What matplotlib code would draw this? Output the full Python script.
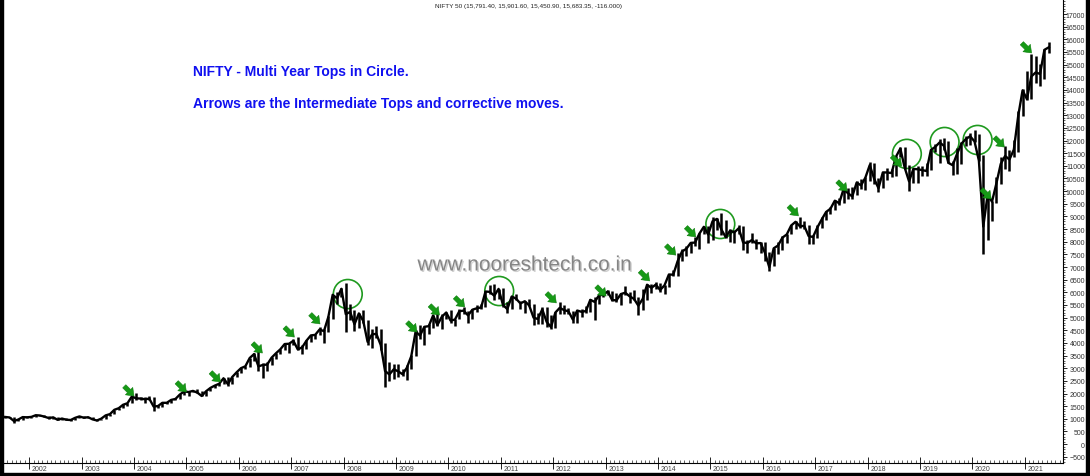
import numpy as np
import matplotlib
matplotlib.use("Agg")
import matplotlib.pyplot as plt
from matplotlib.patches import Ellipse, Rectangle
import matplotlib.patheffects as pe

plt.rcParams['font.family'] = ['Liberation Sans', 'DejaVu Sans']

# NIFTY 50 monthly bars, Jul 2001 .. Jun 2021 (one row per year)
start_year = 2001
start_month = 7

high = [
    1130, 1085, 1070, 990, 1080, 1100,
    1090, 1160, 1170, 1145, 1095, 1080, 1085, 1015, 1020, 985, 1040, 1110,
    1110, 1080, 1070, 995, 1010, 1140, 1200, 1365, 1430, 1570, 1625, 1885,
    2015, 1880, 1860, 1900, 1850, 1560, 1650, 1665, 1750, 1820, 1965, 2090,
    2100, 2110, 2180, 2110, 2095, 2230, 2320, 2420, 2620, 2670, 2660, 2850,
    3010, 3100, 3420, 3600, 3775, 3200, 3230, 3430, 3600, 3760, 3990, 4000,
    4170, 4250, 3930, 4100, 4300, 4350, 4630, 4550, 5060, 5900, 6010, 6180,
    6357, 5550, 5300, 5200, 5300, 4900, 4540, 4650, 4560, 4000, 3240, 3150,
    3150, 2980, 3125, 3520, 4510, 4690, 4670, 4740, 5090, 5180, 5140, 5220,
    5310, 4950, 5330, 5400, 5280, 5350, 5480, 5550, 6070, 6285, 6340, 6150,
    6180, 5600, 5870, 5950, 5640, 5660, 5740, 5550, 5170, 5400, 5400, 5100,
    5220, 5630, 5500, 5380, 5280, 5290, 5350, 5450, 5730, 5815, 5890, 5965,
    6110, 6050, 5970, 5960, 6230, 6000, 6090, 5810, 6140, 6310, 6340, 6420,
    6360, 6290, 6730, 6870, 7560, 7700, 7840, 7970, 8180, 8330, 8620, 8630,
    8996, 8940, 9119, 8840, 8490, 8470, 8650, 8620, 8060, 8340, 8120, 7980,
    7970, 7600, 7770, 7990, 8210, 8310, 8670, 8820, 8970, 8810, 8670, 8275,
    8670, 8980, 9220, 9370, 9650, 9710, 10115, 10140, 10180, 10380, 10490, 10550,
    11170, 11120, 10530, 10760, 10930, 10890, 11370, 11760, 11750, 11040, 10920, 10990,
    10990, 11120, 11630, 11860, 12040, 12100, 11980, 11180, 11690, 11940, 12160, 12290,
    12430, 12250, 11430, 9890, 9600, 10550, 11340, 11790, 11620, 12030, 13150, 14020,
    14750, 15430, 15340, 15040, 15610, 15901,
]
low = [
    1050, 1040, 849, 900, 965, 1030,
    1030, 1065, 1120, 1075, 995, 1010, 950, 940, 960, 920, 950, 1030,
    1030, 1025, 975, 920, 935, 1000, 1120, 1185, 1330, 1410, 1520, 1610,
    1760, 1750, 1630, 1760, 1290, 1440, 1480, 1590, 1620, 1740, 1780, 1960,
    1900, 2050, 2030, 1900, 1900, 2080, 2200, 2300, 2380, 2310, 2370, 2640,
    2800, 2950, 3060, 3300, 2900, 2595, 2880, 3110, 3380, 3560, 3730, 3600,
    3900, 3720, 3550, 3770, 4040, 4160, 4310, 4000, 4440, 4950, 5540, 5800,
    4450, 4900, 4470, 4600, 4800, 3930, 3790, 4200, 3710, 2250, 2500, 2570,
    2660, 2680, 2540, 2960, 3470, 4140, 3920, 4350, 4570, 4680, 4540, 4940,
    4770, 4680, 4930, 5160, 4790, 4960, 5230, 5350, 5400, 5940, 5690, 5720,
    5420, 5180, 5350, 5690, 5330, 5200, 5450, 4720, 4760, 4730, 4640, 4530,
    4590, 5160, 5140, 5150, 4790, 4770, 5030, 5170, 5215, 4890, 5550, 5820,
    5890, 5670, 5600, 5480, 5910, 5570, 5680, 5120, 5320, 5700, 5970, 6130,
    6030, 5930, 6210, 6650, 6640, 7240, 7420, 7540, 7840, 7720, 8290, 7960,
    8070, 8470, 8270, 8140, 7990, 7940, 8300, 7670, 7540, 7930, 7710, 7550,
    7240, 6825, 7040, 7510, 7680, 7930, 8290, 8520, 8550, 8510, 7920, 7890,
    8130, 8540, 8860, 9080, 9270, 9450, 9540, 9690, 9690, 9830, 10090, 10030,
    10400, 10280, 9950, 10110, 10420, 10550, 10600, 11360, 10870, 10000, 10340, 10330,
    10580, 10590, 10820, 11550, 11110, 11630, 11110, 10640, 10670, 11090, 11800, 11830,
    11930, 11180, 7510, 8060, 8810, 9540, 10300, 10880, 10790, 11350, 11560, 12960,
    13600, 13660, 14260, 14150, 14420, 15450,
]
close = [
    1072, 1053, 913, 971, 1067, 1059,
    1075, 1142, 1130, 1084, 1028, 1058, 959, 1010, 963, 952, 1037, 1094,
    1041, 1063, 978, 934, 1006, 1134, 1186, 1356, 1418, 1555, 1615, 1880,
    1809, 1800, 1772, 1796, 1484, 1505, 1632, 1632, 1746, 1786, 1959, 2081,
    2058, 2103, 2036, 1902, 2088, 2221, 2312, 2385, 2602, 2371, 2653, 2837,
    3001, 3075, 3403, 3558, 3072, 3128, 3143, 3414, 3588, 3744, 3955, 3966,
    4083, 3745, 3822, 4088, 4296, 4318, 4529, 4464, 5021, 5901, 5762, 6139,
    5137, 5224, 4735, 5166, 4870, 4040, 4333, 4360, 3921, 2885, 2755, 2959,
    2874, 2763, 3021, 3474, 4449, 4291, 4636, 4662, 5084, 4712, 5033, 5201,
    4882, 4922, 5249, 5278, 5087, 5313, 5368, 5402, 6030, 6018, 5863, 6135,
    5506, 5333, 5834, 5749, 5560, 5647, 5482, 5001, 4943, 5326, 4832, 4624,
    5199, 5385, 5296, 5248, 4924, 5279, 5229, 5259, 5703, 5620, 5880, 5905,
    6035, 5693, 5683, 5930, 5986, 5842, 5742, 5472, 5735, 6299, 6176, 6304,
    6090, 6277, 6704, 6696, 7230, 7611, 7721, 7954, 7965, 8322, 8588, 8283,
    8809, 8902, 8491, 8182, 8434, 8369, 8533, 7971, 7949, 8066, 7935, 7946,
    7564, 6987, 7738, 7850, 8160, 8288, 8639, 8786, 8611, 8626, 8224, 8186,
    8561, 8880, 9174, 9304, 9621, 9521, 10077, 9918, 9789, 10335, 10227, 10531,
    11028, 10493, 10114, 10739, 10736, 10714, 11357, 11681, 10930, 10387, 10877, 10863,
    10831, 10793, 11624, 11748, 11923, 11789, 11118, 11023, 11474, 11877, 12056, 12168,
    11962, 11202, 8598, 9860, 9580, 10302, 11073, 11388, 11248, 11642, 12969, 13982,
    13635, 14529, 14691, 14631, 15583, 15683,
]

years = [2002, 2003, 2004, 2005, 2006, 2007, 2008, 2009, 2010, 2011,
         2012, 2013, 2014, 2015, 2016, 2017, 2018, 2019, 2020, 2021]

# multi year tops (circled) and intermediate tops (arrow tips)
circle_dates = [2008.08, 2010.97, 2015.19, 2018.75, 2019.47, 2020.10]
circle_levels = [5930, 6050, 8700, 11470, 11940, 12020]
arrow_dates = [2004.00, 2005.00, 2005.65, 2006.45, 2007.06, 2007.55, 2009.40, 2009.83,
               2010.31, 2012.06, 2013.01, 2013.84, 2014.34, 2014.72, 2016.68, 2017.61,
               2018.65, 2020.36, 2020.61, 2021.13]
arrow_levels = [1900, 2060, 2455, 3600, 4230, 4750, 4430, 5100,
                5420, 5580, 5850, 6450, 7470, 8190, 9020, 10000,
                10990, 9690, 11740, 15460]

title = "NIFTY 50 (15,791.40, 15,901.60, 15,450.90, 15,683.35, -116.000)"
note1 = "NIFTY - Multi Year Tops in Circle."
note2 = "Arrows are the Intermediate Tops and corrective moves."
watermark = "www.nooreshtech.co.in"

W, H = 1090, 477
fig = plt.figure(figsize=(W / 100, H / 100), dpi=100)
ax = fig.add_axes([3 / W, 13 / H, 1060 / W, 464 / H])

x = start_year + (start_month - 1 + np.arange(len(close)) + 0.5) / 12
ax.vlines(x, low, high, color='black', lw=1.8)
ax.plot(x, close, color='black', lw=1.7)

ax.set_xlim(2001.58, 2021.73)
ax.set_ylim(-747, 17593)

# right price axis
ax.yaxis.tick_right()
ax.set_yticks(np.arange(-500, 17001, 500))
ax.set_yticks(np.arange(-700, 17501, 100), minor=True)
ax.tick_params(axis='y', which='major', length=3, width=0.7, pad=12.8,
               labelsize=5, labelcolor='#333333', colors='#222222')
ax.tick_params(axis='y', which='minor', length=1.5, width=0.5, colors='#222222')
plt.setp(ax.get_yticklabels(), ha='right', color='#333333')

# bottom time axis
ax.set_xticks(years)
ax.set_xticklabels([])
ax.set_xticks(np.arange(start_year + (start_month - 1) / 12, 2021.73, 1 / 12), minor=True)
ax.tick_params(axis='x', which='major', direction='inout', length=9, width=0.7, colors='#222222')
ax.tick_params(axis='x', which='minor', direction='in', length=2.2, width=0.5, colors='#222222')
for yr in years:
    ax.text(yr + 0.05, -0.004, str(yr), transform=ax.get_xaxis_transform(),
            ha='left', va='top', fontsize=5, color='#444444')

for s in ['top', 'left']:
    ax.spines[s].set_visible(False)
ax.spines['right'].set_linewidth(0.8)
ax.spines['bottom'].set_linewidth(0.8)

# circles and arrows
for cx, cy in zip(circle_dates, circle_levels):
    ax.add_patch(Ellipse((cx, cy), 0.55, 1150, fill=False, ec='#1f9a1f', lw=1.2))
for ad, al in zip(arrow_dates, arrow_levels):
    ax.annotate('', xy=(ad, al), xytext=(-7, 7), textcoords='offset points',
                arrowprops=dict(arrowstyle='simple,head_length=0.5,head_width=0.75,tail_width=0.32',
                                fc='#169a16', ec='#0d7d0d', lw=0.4, mutation_scale=10,
                                shrinkA=0, shrinkB=0))

# texts
ax.text(0.496, 0.987, title, transform=ax.transAxes, ha='center', va='center',
        fontsize=4.6, color='#222222')
ax.text(0.1792, 0.845, note1, transform=ax.transAxes, ha='left', va='center',
        fontsize=10, fontweight='bold', color='#1010f0')
ax.text(0.1792, 0.776, note2, transform=ax.transAxes, ha='left', va='center',
        fontsize=10, fontweight='bold', color='#1010f0')
ax.text(0.4925, 0.4267, watermark, transform=ax.transAxes, ha='center', va='center',
        fontsize=15, color='#858585',
        path_effects=[pe.withSimplePatchShadow(offset=(1, -1), shadow_rgbFace='#d0d0d0', alpha=1)])

# black frame strips
fig.patches.append(Rectangle((0, 0), 3 / W, 1, transform=fig.transFigure, color='black'))
fig.patches.append(Rectangle((0, 0), 1, 3 / H, transform=fig.transFigure, color='black'))
fig.patches.append(Rectangle((1086 / W, 0), 4 / W, 1, transform=fig.transFigure, color='black'))

fig.savefig("out.png", dpi=100)
